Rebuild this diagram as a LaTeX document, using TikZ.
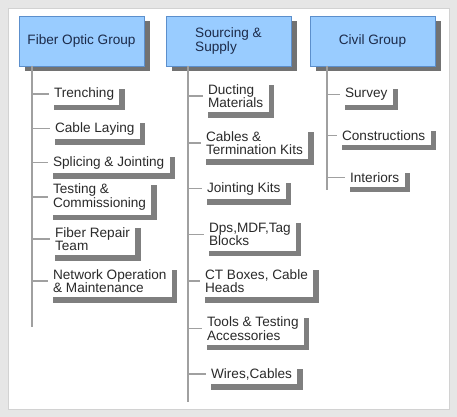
\documentclass[tikz,border=0pt]{standalone}
\usepackage{fontspec}
\setmainfont{Liberation Sans}
\usepackage{tikz}
\usetikzlibrary{shadows}

\definecolor{bggray}{HTML}{E6E6E6}
\definecolor{panelline}{HTML}{D2D2D2}
\definecolor{headfill}{HTML}{99CCFF}
\definecolor{headline}{HTML}{5C8FCC}
\definecolor{headtext}{HTML}{1C2B4A}
\definecolor{itemtext}{HTML}{2A2A2A}
\definecolor{shadowgray}{HTML}{7F7F7F}
\definecolor{stem}{HTML}{A0A0A0}

\begin{document}
\begin{tikzpicture}[x=0.75pt,y=-0.75pt,
  head/.style={draw=headline, fill=headfill, text=headtext, align=left,
    minimum width=93.75pt, minimum height=37.5pt,
    font=\fontsize{10.2pt}{11pt}\selectfont,
    drop shadow={shadow xshift=4.5pt, shadow yshift=-4pt, fill=shadowgray!90!black, opacity=1}},
  item/.style={fill=white, text=itemtext, align=left, anchor=west,
    inner xsep=4pt, minimum height=14.5pt,
    font=\fontsize{10.2pt}{10.2pt}\selectfont,
    drop shadow={shadow xshift=4pt, shadow yshift=-4pt, fill=shadowgray, opacity=1}},
  item2/.style={item, minimum height=24.5pt},
  stemline/.style={draw=stem, line width=0.8pt}]
  \useasboundingbox (0,0) rectangle (457,417);
  \fill[bggray] (0,0) rectangle (457,417);
  \filldraw[fill=white, draw=panelline] (8,8) rectangle (449,409);
	% group heads
	\node[head] (G1) at (81.5,41) {Fiber Optic Group};
	\node[head] (G2) at (228.5,41) {Sourcing \&\\Supply};
	\node[head] (G3) at (372.5,41) {Civil Group};
	% stems
	\coordinate (FT) at (32,66);
	\coordinate (FB) at (32,327);
	\coordinate (ST) at (188,66);
	\coordinate (SB) at (188,402);
	\coordinate (CT) at (327,66);
	\coordinate (CB) at (327,190);
	\draw[stemline] (FT) -- (FB);
	\draw[stemline] (ST) -- (SB);
	\draw[stemline] (CT) -- (CB);
	% fiber optic items
	\node[item] (F1) at (48.5,94) {Trenching};
	\node[item] (F2) at (49.5,128.5) {Cable Laying};
	\node[item] (F3) at (47.5,162.5) {Splicing \& Jointing};
	\node[item2] (F4) at (47.5,197) {Testing \&\\Commissioning};
	\node[item2] (F5) at (49.5,239) {Fiber Repair\\Team};
	\node[item2] (F6) at (47.5,281) {Network Operation\\\& Maintenance};
	% sourcing items
	\node[item2] (S1) at (202.5,96) {Ducting\\Materials};
	\node[item2] (S2) at (200.5,143) {Cables \&\\Termination Kits};
	\node[item] (S3) at (201.5,188.5) {Jointing Kits};
	\node[item2] (S4) at (203.5,234.5) {Dps,MDF,Tag\\Blocks};
	\node[item2] (S5) at (199.5,281) {CT Boxes, Cable\\Heads};
	\node[item2] (S6) at (201.5,328.5) {Tools \& Testing\\Accessories};
	\node[item] (S7) at (205.5,374) {Wires,Cables};
	% civil items
	\node[item] (C1) at (339.5,94.5) {Survey};
	\node[item] (C2) at (336.5,135.5) {Constructions};
	\node[item] (C3) at (344.5,177.5) {Interiors};
	% ticks
	\draw[stemline] (F1.west -| FT) -- (F1.west);
	\draw[stemline] (F2.west -| FT) -- (F2.west);
	\draw[stemline] (F3.west -| FT) -- (F3.west);
	\draw[stemline] (F4.west -| FT) -- (F4.west);
	\draw[stemline] (F5.west -| FT) -- (F5.west);
	\draw[stemline] (F6.west -| FT) -- (F6.west);
	\draw[stemline] (S1.west -| ST) -- (S1.west);
	\draw[stemline] (S2.west -| ST) -- (S2.west);
	\draw[stemline] (S3.west -| ST) -- (S3.west);
	\draw[stemline] (S4.west -| ST) -- (S4.west);
	\draw[stemline] (S5.west -| ST) -- (S5.west);
	\draw[stemline] (S6.west -| ST) -- (S6.west);
	\draw[stemline] (S7.west -| ST) -- (S7.west);
	\draw[stemline] (C1.west -| CT) -- (C1.west);
	\draw[stemline] (C2.west -| CT) -- (C2.west);
	\draw[stemline] (C3.west -| CT) -- (C3.west);
\end{tikzpicture}
\end{document}
